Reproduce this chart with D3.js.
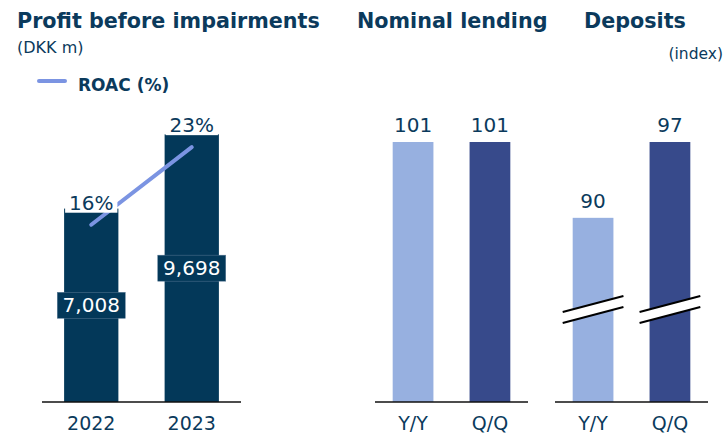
<!DOCTYPE html>
<html>
<head>
<meta charset="utf-8">
<script src="https://cdn.jsdelivr.net/npm/d3@7"></script>
<style>
  body { margin: 0; background: #fff; }
  svg text { font-family: "DejaVu Sans", "Noto Sans", sans-serif; }
</style>
</head>
<body>
<div id="chart"></div>
<script>
// data
const years = ["2022", "2023"];
const profit = [7008, 9698];
const roac = [16, 23];
const growthCats = ["Y/Y", "Q/Q"];
const lending = [101, 101];
const deposits = [90, 97];

const W = 728, H = 433;
const base = 402;
const textCol = "#0b3a5c";
const darkBar = "#033859";
const lightBlue = "#97b0e0";
const deepBlue = "#374a8b";
const roacCol = "#7b94e2";

let svg = d3.select("#chart").append("svg")
  .attr("width", W)
  .attr("height", H);

// titles
function title(x, y, txt, size, bold, anchor) {
  svg.append("text").attr("x", x).attr("y", y)
    .attr("font-size", size)
    .attr("font-weight", bold ? "bold" : "normal")
    .attr("text-anchor", anchor || "start")
    .attr("fill", textCol)
    .text(txt);
}
title(17, 28, "Profit before impairments", 20.7, true);
title(17, 53, "(DKK m)", 16, false);
title(357, 28, "Nominal lending", 20.7, true);
title(584, 28, "Deposits", 20.7, true);
title(723, 59, "(index)", 15.5, false, "end");

// legend
svg.append("line").attr("x1", 39).attr("x2", 65).attr("y1", 81).attr("y2", 81)
  .attr("stroke", roacCol).attr("stroke-width", 4).attr("stroke-linecap", "round");
title(78, 91, "ROAC (%)", 17, true);

// ---- profit panel
let xP = d3.scaleBand().domain(years).range([42, 241]).paddingInner(0.46).paddingOuter(0.22);
let yP = d3.scaleLinear().domain([0, 10000]).range([base, 126]);
let yR = d3.scaleLinear().domain([0, 25]).range([base, 125]);

let gP = svg.append("g");
gP.selectAll(".pbar")
  .data(years)
  .enter()
  .append("rect")
  .attr("class", "pbar")
  .attr("x", d => xP(d))
  .attr("width", xP.bandwidth())
  .attr("y", (d, i) => yP(profit[i]))
  .attr("height", (d, i) => base - yP(profit[i]))
  .attr("fill", darkBar);

// roac line
let roacLine = d3.line()
  .x((d, i) => xP(years[i]) + xP.bandwidth() / 2)
  .y(d => yR(d));
gP.append("path")
  .datum(roac)
  .attr("d", roacLine)
  .attr("fill", "none")
  .attr("stroke", roacCol)
  .attr("stroke-width", 4)
  .attr("stroke-linecap", "round");

// roac labels with white background
roac.forEach((v, i) => {
  let cx = xP(years[i]) + xP.bandwidth() / 2;
  let by = yR(v) - 15;
  gP.append("rect")
    .attr("x", xP(years[i]) + 1).attr("width", xP.bandwidth() - 2)
    .attr("y", by - 16).attr("height", 19)
    .attr("fill", "#fff");
  gP.append("text")
    .attr("x", cx).attr("y", by)
    .attr("text-anchor", "middle")
    .attr("font-size", 20).attr("fill", textCol)
    .text(v + "%");
});

// value boxes
profit.forEach((v, i) => {
  let cx = xP(years[i]) + xP.bandwidth() / 2;
  let cy = (yP(v) + base) / 2;
  gP.append("rect")
    .attr("x", cx - 34).attr("width", 68)
    .attr("y", cy - 13).attr("height", 26)
    .attr("fill", darkBar)
    .attr("stroke", "#5a7a95").attr("stroke-width", 0.5);
  gP.append("text")
    .attr("x", cx).attr("y", cy + 7)
    .attr("text-anchor", "middle")
    .attr("font-size", 20).attr("fill", "#fff")
    .text(d3.format(",")(v));
});

function drawAxis(g, xs, labels) {
  let r = xs.range();
  g.append("line")
    .attr("x1", r[0]).attr("x2", r[1])
    .attr("y1", base).attr("y2", base)
    .attr("stroke", "#111").attr("stroke-width", 1.5);
  g.selectAll(".tick-label")
    .data(labels)
    .enter()
    .append("text")
    .attr("class", "tick-label")
    .attr("x", d => xs(d) + xs.bandwidth() / 2)
    .attr("y", 430)
    .attr("text-anchor", "middle")
    .attr("font-size", 19)
    .attr("fill", textCol)
    .text(d => d);
}
drawAxis(gP, xP, years);

// ---- lending panel
let xL = d3.scaleBand().domain(growthCats).range([375, 528]).paddingInner(0.47).paddingOuter(0.23);
let yL = d3.scaleLinear().domain([0, 101]).range([base, 142]);
let gL = svg.append("g");
gL.selectAll(".lbar")
  .data(growthCats)
  .enter()
  .append("rect")
  .attr("x", d => xL(d))
  .attr("width", xL.bandwidth())
  .attr("y", (d, i) => yL(lending[i]))
  .attr("height", (d, i) => base - yL(lending[i]))
  .attr("fill", (d, i) => i == 0 ? lightBlue : deepBlue);
gL.selectAll(".llab")
  .data(growthCats)
  .enter()
  .append("text")
  .attr("x", d => xL(d) + xL.bandwidth() / 2)
  .attr("y", (d, i) => yL(lending[i]) - 10)
  .attr("text-anchor", "middle")
  .attr("font-size", 20).attr("fill", textCol)
  .text((d, i) => lending[i]);
drawAxis(gL, xL, growthCats);

// ---- deposits panel (broken axis)
let xD = d3.scaleBand().domain(growthCats).range([555, 708]).paddingInner(0.47).paddingOuter(0.23);
let yD = d3.scaleLinear().domain([73, 97]).range([base, 142]);
let gD = svg.append("g");
gD.selectAll(".dbar")
  .data(growthCats)
  .enter()
  .append("rect")
  .attr("x", d => xD(d))
  .attr("width", xD.bandwidth())
  .attr("y", (d, i) => yD(deposits[i]))
  .attr("height", (d, i) => base - yD(deposits[i]))
  .attr("fill", (d, i) => i == 0 ? lightBlue : deepBlue);
gD.selectAll(".dlab")
  .data(growthCats)
  .enter()
  .append("text")
  .attr("x", d => xD(d) + xD.bandwidth() / 2)
  .attr("y", (d, i) => yD(deposits[i]) - 10)
  .attr("text-anchor", "middle")
  .attr("font-size", 20).attr("fill", textCol)
  .text((d, i) => deposits[i]);

// break marks
growthCats.forEach(c => {
  let x0 = xD(c) - 10, x1 = xD(c) + xD.bandwidth() + 10;
  gD.append("path")
    .attr("d", `M${x0},312 L${x1},296 L${x1},307 L${x0},323 Z`)
    .attr("fill", "#fff");
  [0, 11].forEach(off => {
    gD.append("line")
      .attr("x1", x0).attr("y1", 312 + off)
      .attr("x2", x1).attr("y2", 296 + off)
      .attr("stroke", "#000").attr("stroke-width", 2);
  });
});
drawAxis(gD, xD, growthCats);
</script>
</body>
</html>
